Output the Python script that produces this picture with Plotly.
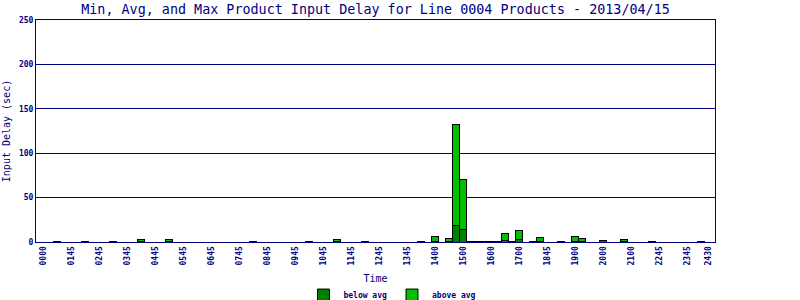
import plotly.graph_objects as go

# All x-axis categories (time slots), in order
times = [
    "0000", "0015", "0045", "0115", "0145", "0200", "0215", "0230",
    "0245", "0300", "0315", "0330", "0345", "0400", "0415", "0430",
    "0445", "0500", "0515", "0530", "0545", "0600", "0615", "0630",
    "0645", "0700", "0715", "0730", "0745", "0800", "0815", "0830",
    "0845", "0900", "0915", "0930", "0945", "1000", "1015", "1030",
    "1045", "1100", "1115", "1130", "1145", "1200", "1215", "1230",
    "1245", "1300", "1315", "1330", "1345", "1348", "1350", "1355",
    "1400", "1415", "1430", "1445", "1500", "1515", "1530", "1545",
    "1600", "1615", "1630", "1645", "1700", "1715", "1745", "1815",
    "1845", "1851", "1854", "1857", "1900", "1915", "1930", "1945",
    "2000", "2015", "2030", "2045", "2100", "2130", "2200", "2230",
    "2245", "2300", "2315", "2330", "2345", "2400", "2415", "2430",
]

# Labelled ticks
tick_labels = [
    "0000", "0145", "0245", "0345", "0445", "0545", "0645", "0745",
    "0845", "0945", "1045", "1145", "1245", "1345", "1400", "1500",
    "1600", "1700", "1845", "1900", "2000", "2100", "2245", "2345", "2430",
]

# Bars (times with data)
bar_times = [
    "0045", "0215", "0315", "0415", "0515", "0815", "1015", "1115",
    "1215", "1350", "1400", "1430", "1445", "1500", "1515", "1530",
    "1545", "1600", "1615", "1630", "1645", "1700", "1745", "1815",
    "1854", "1900", "1915", "2000", "2045", "2230", "2415",
]
below_avg = [
    1.0, 1.0, 1.0, 0.5, 0.5, 1.0, 1.0, 0.5,
    1.0, 1.0, 1.0, 0.5, 19.0, 14.0, 1.0, 1.0,
    1.0, 1.0, 1.0, 2.0, 1.0, 2.5, 1.0, 0.5,
    1.0, 0.5, 0.5, 2.0, 0.5, 1.0, 1.0,
]
above_avg = [
    0.0, 0.0, 0.0, 2.0, 2.0, 0.0, 0.0, 2.0,
    0.0, 0.0, 5.0, 4.0, 113.5, 56.0, 0.0, 0.0,
    0.0, 0.0, 0.0, 7.5, 0.0, 10.5, 0.0, 4.5,
    0.0, 5.5, 3.0, 0.0, 2.0, 0.0, 0.0,
]

y_ticks = [0, 50, 100, 150, 200, 250]

NAVY = "#000080"
MONO = "DejaVu Sans Mono"

fig = go.Figure()
fig.add_trace(go.Bar(
    x=bar_times, y=below_avg, name="below avg",
    marker=dict(color="#008000", line=dict(color="black", width=1)),
))
fig.add_trace(go.Bar(
    x=bar_times, y=above_avg, name="above avg",
    marker=dict(color="#00C000", line=dict(color="black", width=1)),
))

fig.update_layout(
    width=800, height=300,
    barmode="stack", bargap=0.14,
    paper_bgcolor="white", plot_bgcolor="white",
    margin=dict(l=36, r=85, t=20, b=58, autoexpand=False),
    title=dict(
        text="Min, Avg, and Max Product Input Delay for Line 0004 Products - 2013/04/15",
        font=dict(family=MONO, size=13.4, color=NAVY),
        x=(36 + 715) / 2 / 800, xanchor="center", y=0.968, yanchor="middle",
    ),
    font=dict(family=MONO, color=NAVY),
    showlegend=True,
    legend=dict(
        orientation="h", x=0.525, xanchor="center", y=-0.239, yanchor="middle",
        font=dict(family=MONO, size=8, color=NAVY, weight="bold"),
        bgcolor="rgba(0,0,0,0)", traceorder="normal",
        itemwidth=30, tracegroupgap=0,
    ),
    xaxis=dict(
        type="category", categoryorder="array", categoryarray=times,
        range=[-1, len(times)], automargin=False,
        tickmode="array", tickvals=tick_labels, ticktext=tick_labels,
        tickangle=-90, tickfont=dict(family=MONO, size=8, color=NAVY, weight="bold"),
        showgrid=False, showline=True, linecolor=NAVY, linewidth=1, mirror=True,
        ticks="", title=dict(text="Time", font=dict(family=MONO, size=10, color=NAVY), standoff=10),
    ),
    yaxis=dict(
        range=[0, 250], tickvals=y_ticks, automargin=False,
        tickfont=dict(family=MONO, size=8, color=NAVY, weight="bold"),
        showgrid=True, gridcolor=NAVY, gridwidth=1,
        showline=True, linecolor=NAVY, linewidth=1, mirror=True,
        zeroline=False, ticks="",
        title=dict(text="Input Delay (sec)", font=dict(family=MONO, size=10, color=NAVY), standoff=6),
    ),
)

fig.write_html("out.html")
